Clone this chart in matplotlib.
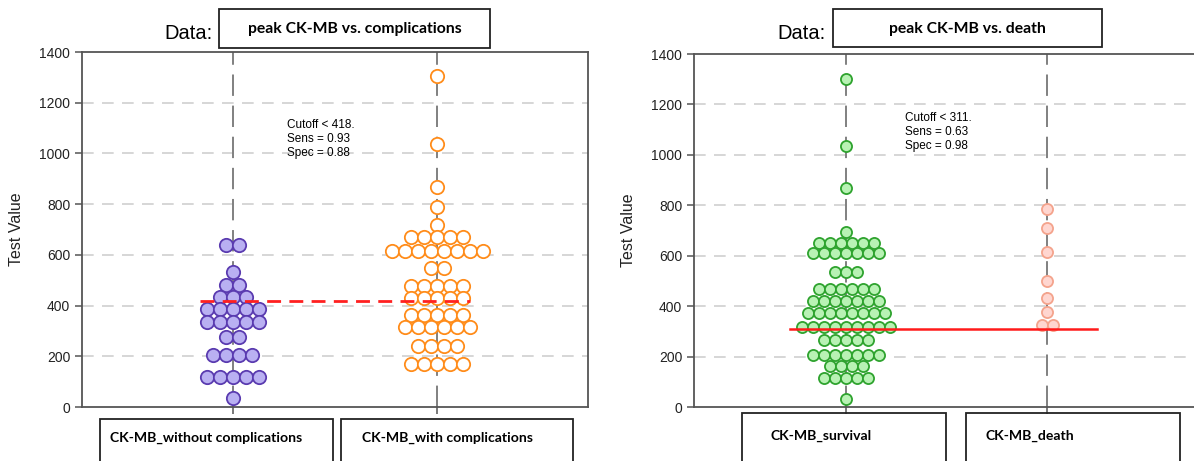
import matplotlib
matplotlib.use("Agg")
import matplotlib.pyplot as plt
from matplotlib.patches import Rectangle
from collections import Counter

# ---------------- data ----------------
titles = ["peak CK-MB vs. complications", "peak CK-MB vs. death"]
categories_left = ["CK-MB_without complications", "CK-MB_with complications"]
categories_right = ["CK-MB_survival", "CK-MB_death"]

without_compl = [640, 640, 533, 481, 481, 432, 432, 432, 385, 385, 385, 385, 385,
                 334, 334, 334, 334, 334, 275, 275, 205, 205, 205, 205,
                 120, 120, 120, 120, 120, 34]
with_compl = [1305, 1037, 869, 790, 718] + [669] * 5 + [616] * 8 + [549] * 2 + \
             [477] * 5 + [428] * 5 + [363] * 5 + [317] * 6 + [240] * 4 + [170] * 5
survival = [1300, 1035, 867, 693] + [652] * 6 + [612] * 7 + [537] * 3 + [468] * 6 + \
           [419] * 7 + [373] * 8 + [319] * 9 + [267] * 5 + [208] * 7 + [162] * 4 + \
           [116] * 5 + [30]
death = [785, 710, 616, 500, 432, 376, 327, 327]

cutoff_left, sens_left, spec_left = 418, 0.93, 0.88
cutoff_right, sens_right, spec_right = 311, 0.63, 0.98
yticks = [0, 200, 400, 600, 800, 1000, 1200, 1400]

W, H = 1194, 461
fig = plt.figure(figsize=(W / 100, H / 100), dpi=100)


def fx(px):
    return px / W


def fy(py):
    return 1 - py / H


def axes_px(x0, y0, x1, y1):
    return fig.add_axes([fx(x0), fy(y1), fx(x1) - fx(x0), fy(y0) - fy(y1)])


def swarm(ax, values, xpos, step, s, face, edge):
    counts = Counter(values)
    xs, ys = [], []
    for v, n in counts.items():
        for i in range(n):
            xs.append(xpos + (i - (n - 1) / 2) * step)
            ys.append(v)
    ax.scatter(xs, ys, s=s, facecolor=face, edgecolor=edge, linewidth=1.3, zorder=4)


def style_axes(ax, xlim, right_spine=True):
    ax.set_xlim(*xlim)
    ax.set_ylim(0, 1400)
    ax.set_yticks(yticks)
    ax.set_xticks([0, 1])
    ax.set_xticklabels([])
    for y in yticks[1:-1]:
        ax.axhline(y, color="#d0d0d0", lw=1.2, dashes=(7, 5), zorder=1)
    for x in [0, 1]:
        ax.axvline(x, color="#808080", lw=1.4, dashes=(11, 5), zorder=2)
    for sp in ax.spines.values():
        sp.set_color("#555555")
        sp.set_linewidth(1.3)
    ax.spines["right"].set_visible(right_spine)
    ax.tick_params(axis="both", direction="out", length=5, width=1.1, color="#555555",
                   labelsize=10, labelcolor="#222222")
    for lab in ax.get_yticklabels():
        lab.set_fontfamily("Liberation Sans")
    ax.set_ylabel("Test Value", fontsize=11.5, family="Liberation Sans", color="#222222")


# ---------------- left panel ----------------
axL = axes_px(82, 52, 588, 407)
style_axes(axL, (-0.74, 1.74))
axL.yaxis.set_label_coords(-0.115, 0.5)
stepL = 13 / 204
swarm(axL, without_compl, 0, stepL, 92, "#b9b0f2", "#5a3bb0")
swarm(axL, with_compl, 1, stepL, 92, "white", "#ff8c1a")
axL.plot([-0.16, 1.16], [cutoff_left] * 2, color="#ff2020", lw=2, dashes=(5, 3), zorder=5)
fig.text(fx(287), fy(119), f"Cutoff < {cutoff_left}.\nSens = {sens_left:.2f}\nSpec = {spec_left:.2f}",
         fontsize=8.5, family="Liberation Sans", va="top", ha="left", linespacing=1.2)

# ---------------- right panel ----------------
axR = axes_px(694, 54, 1196, 407)
stepR = 11 / 201
style_axes(axR, (-0.756, 1.74), right_spine=False)
axR.yaxis.set_label_coords(-0.115, 0.5)
swarm(axR, survival, 0, stepR, 64, "#b8f2b4", "#2ea32e")
swarm(axR, death, 1, stepR, 64, "#ffd6d0", "#f4a38c")
axR.plot([-0.28, 1.25], [cutoff_right] * 2, color="#ff1a1a", lw=1.8, zorder=5)
fig.text(fx(905), fy(112), f"Cutoff < {cutoff_right}.\nSens = {sens_right:.2f}\nSpec = {spec_right:.2f}",
         fontsize=8.5, family="Liberation Sans", va="top", ha="left", linespacing=1.2)


# ---------------- boxes and labels ----------------
def box(x0, y0, x1, y1):
    fig.patches.append(Rectangle((fx(x0), fy(y1)), fx(x1) - fx(x0), fy(y0) - fy(y1),
                                 transform=fig.transFigure, fill=False,
                                 edgecolor="#222222", lw=1.3))


# title boxes
box(219, 9, 490, 48)
fig.text(fx(213), fy(33), "Data:", fontsize=14.5, family="Liberation Sans", ha="right", va="center")
fig.text(fx(354.5), fy(29), titles[0], fontsize=11.3, family="Lato", weight="bold", ha="center", va="center")
box(833, 9, 1102, 47)
fig.text(fx(826), fy(33), "Data:", fontsize=14.5, family="Liberation Sans", ha="right", va="center")
fig.text(fx(967.5), fy(29), titles[1], fontsize=11.3, family="Lato", weight="bold", ha="center", va="center")

# category boxes
box(100, 419, 333, 475)
box(341, 419, 573, 475)
fig.text(fx(110), fy(438), categories_left[0], fontsize=10.1, family="Lato", weight="bold", va="center")
fig.text(fx(362), fy(438), categories_left[1], fontsize=10.1, family="Lato", weight="bold", va="center")
box(742, 413, 946, 475)
box(966, 413, 1180, 475)
fig.text(fx(770), fy(436), categories_right[0], fontsize=10.1, family="Lato", weight="bold", va="center")
fig.text(fx(985), fy(436), categories_right[1], fontsize=10.1, family="Lato", weight="bold", va="center")

fig.savefig("out.png", dpi=100)
